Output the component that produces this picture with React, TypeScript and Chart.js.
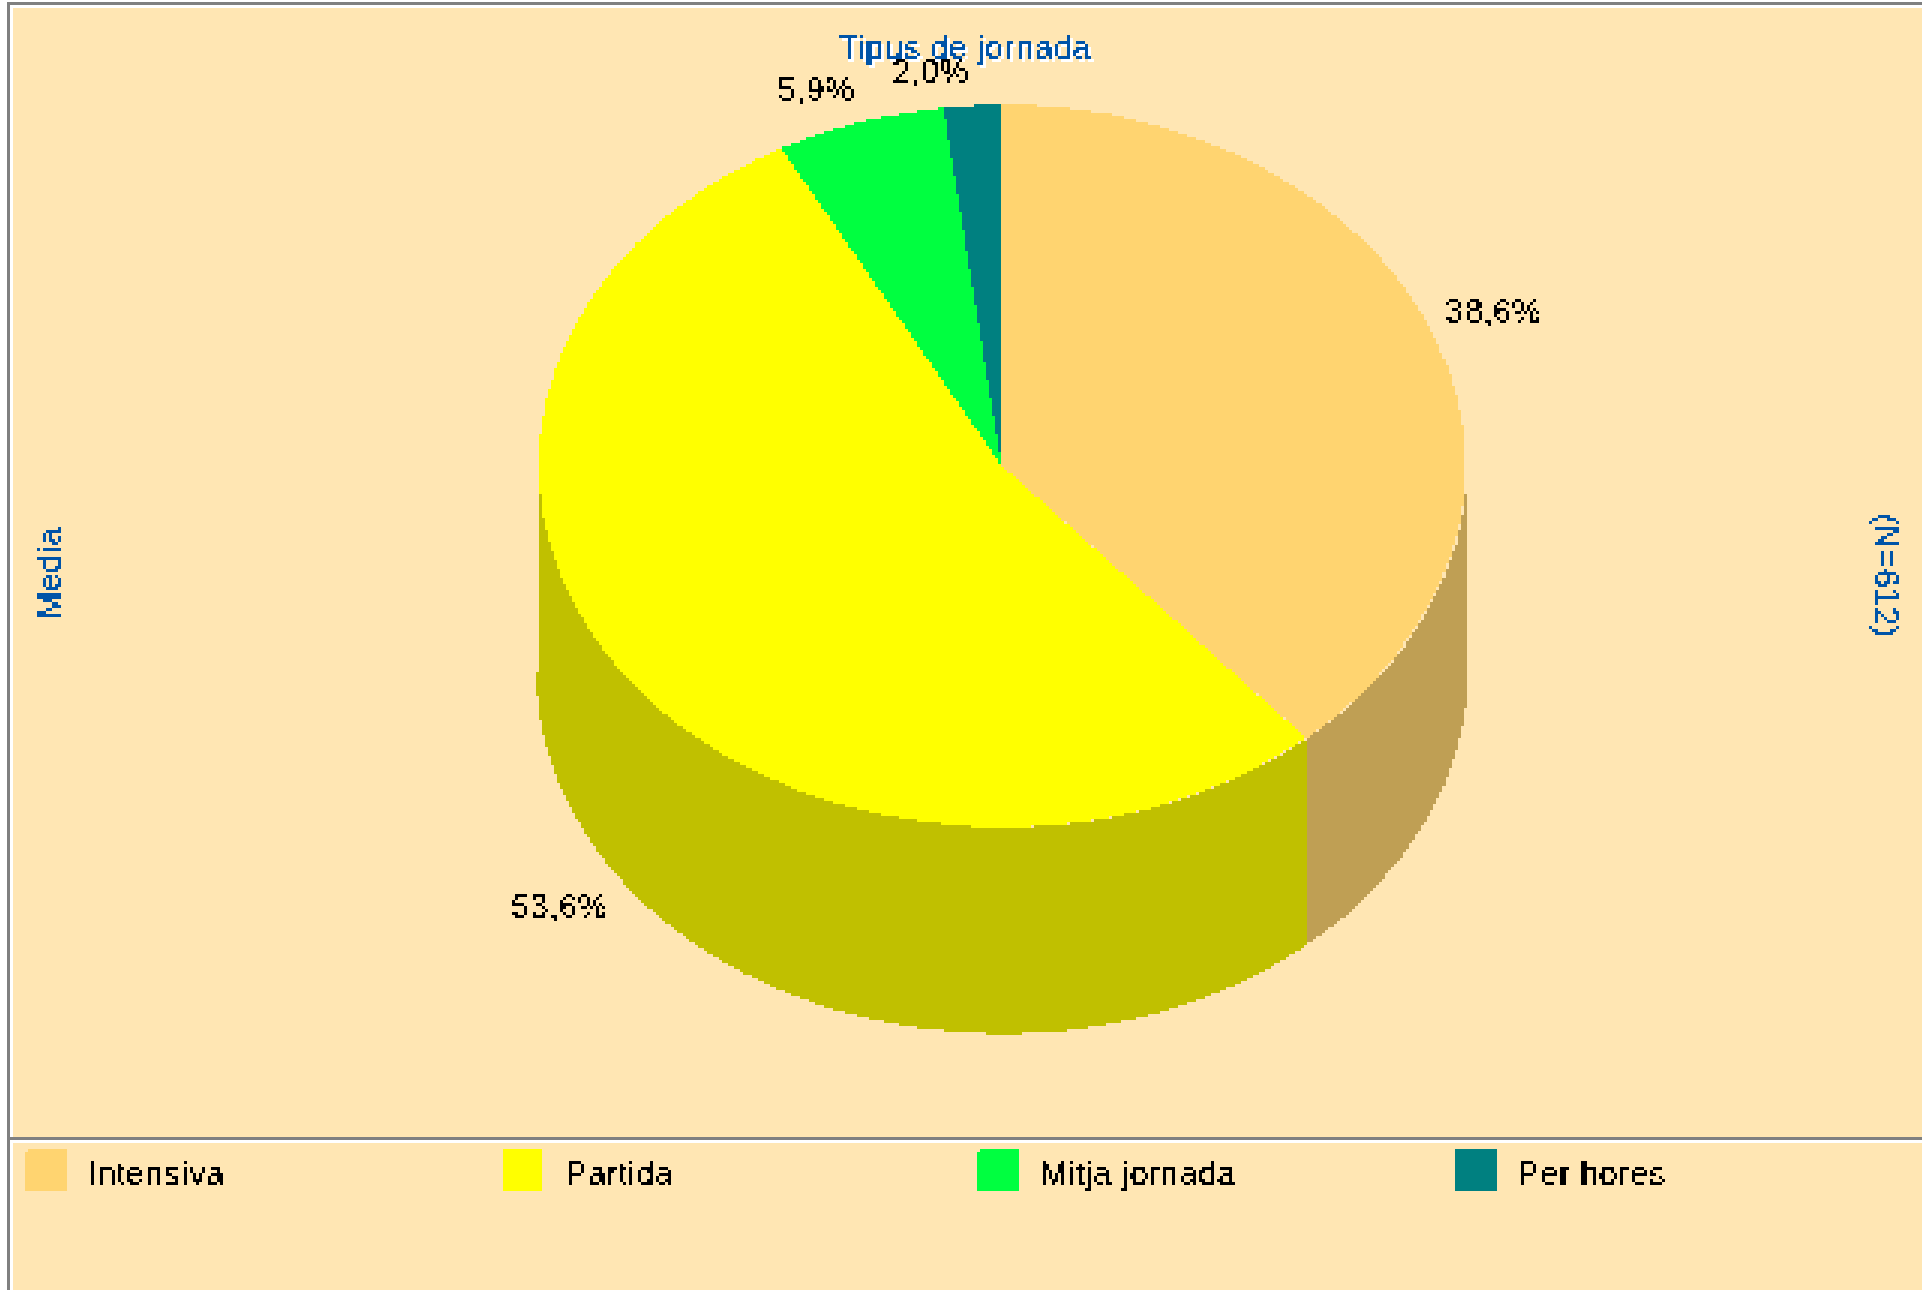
import React, { useEffect, useRef } from "react";
import { Chart, registerables } from "chart.js";

Chart.register(...registerables);

const categories = ["Intensiva", "Partida", "Mitja jornada", "Per hores"];
const shares = [38.6, 53.6, 5.9, 2.0];
const shareLabels = ["38,6%", "53,6%", "5,9%", "2,0%"];
const topColors = ["#FFD470", "#FFFF00", "#00FF40", "#008080"];
const wallColors = ["#BF9F54", "#C0C000", "#00BF30", "#006060"];
const titleText = "Tipus de jornada";
const leftText = "Media";
const rightText = "(N=612)";

const PEACH = "#FFE6B3";
const GRAY = "#808080";
const BLUE = "#0054A8";
const FONT = '33px "Liberation Sans", Arial, sans-serif';
const SPACING = "0.55px";
const TEXT_CUT = 0.46;

// One source pixel of the old bitmap look covers this many page pixels.
const CELL = 3.003;
const COLS = 642;
const ROWS = 430;
const W = 1928;
const H = 1292;
const OX = 2;
const OY = 1;
const CX = 1001.5;
const CY = 466;
const RX = 463.5;
const RY = 361;
const DEPTH = 205;

const labelSpots: [number, number][] = [
  [1445, 324],
  [511, 918],
  [777, 101],
  [892, 84],
];
const swatchLeft = [26, 502, 978, 1455];
const swatchRight = [68, 543, 1020, 1496];
const legendTextLeft = [88, 565, 1040, 1517];

function toRgb(hex: string) {
  const n = parseInt(hex.slice(1), 16);
  return [(n >> 16) & 255, (n >> 8) & 255, n & 255];
}

// Draws with the given colour, then removes the anti-aliased fringe.
function hard(c: CanvasRenderingContext2D, color: string, cut: number, draw: () => void) {
  const cw = c.canvas.width;
  const ch = c.canvas.height;
  const before = c.getImageData(0, 0, cw, ch).data;
  draw();
  const image = c.getImageData(0, 0, cw, ch);
  const px = image.data;
  const [r, g, b] = toRgb(color);
  for (let i = 0; i < px.length; i += 4) {
    const d = Math.abs(px[i] - before[i]) + Math.abs(px[i + 1] - before[i + 1]) + Math.abs(px[i + 2] - before[i + 2]);
    if (d === 0) continue;
    const total = Math.abs(r - before[i]) + Math.abs(g - before[i + 1]) + Math.abs(b - before[i + 2]);
    const on = total > 0 && d / total >= cut;
    px[i] = on ? r : before[i];
    px[i + 1] = on ? g : before[i + 1];
    px[i + 2] = on ? b : before[i + 2];
    px[i + 3] = 255;
  }
  c.putImageData(image, 0, 0);
}

const framePlugin = {
  id: "frame",
  beforeDraw(chart: any) {
    const c = chart.ctx;
    const band = (col: number, row: number, cols: number, rows: number, color: string) => {
      c.fillStyle = color;
      c.fillRect(col * CELL, row * CELL, cols * CELL, rows * CELL);
    };
    c.save();
    band(0, 0, COLS, ROWS, "#FFFFFF");
    band(3, 1, COLS, 1, GRAY);
    band(3, 1, 1, ROWS, GRAY);
    band(5, 3, COLS, ROWS, PEACH);
    band(3, 379, COLS, 1, GRAY);
    band(4, 380, COLS, 1, "#FFFFFF");
    c.restore();
  },
};

const pie3dPlugin = {
  id: "pie3d",
  beforeDatasetDraw(chart: any) {
    const c = chart.ctx;
    const arcs = chart.getDatasetMeta(0).data;
    const k = RY / RX;
    arcs.forEach((arc: any, i: number) => {
      const p = arc.getProps(["x", "y", "startAngle", "endAngle", "outerRadius"], true);
      const a0 = Math.max(p.startAngle, 0);
      const a1 = Math.min(p.endAngle, Math.PI);
      if (a1 <= a0) return;
      hard(c, wallColors[i], 0.5, () => {
        c.save();
        c.fillStyle = wallColors[i];
        c.translate(p.x, p.y);
        c.scale(1, k);
        c.beginPath();
        c.arc(2, 0, p.outerRadius, a0, a1, false);
        if (a1 === Math.PI) c.lineTo(-p.outerRadius, DEPTH / k);
        c.arc(0, DEPTH / k, p.outerRadius + 2.5, a1, a0, true);
        c.closePath();
        c.fill();
        c.restore();
      });
    });
    arcs.forEach((arc: any, i: number) => {
      hard(c, topColors[i], 0.5, () => {
        c.save();
        c.translate(CX + OX, CY + OY);
        c.scale(1, k);
        c.translate(-CX - OX, -CY - OY);
        arc.draw(c);
        c.restore();
      });
    });
    return false;
  },
};

const textPlugin = {
  id: "texts",
  afterDraw(chart: any) {
    const c = chart.ctx;
    const write = (color: string, fn: () => void) => {
      hard(c, color, TEXT_CUT, () => {
        c.save();
        c.translate(OX, OY);
        c.font = FONT;
        c.letterSpacing = SPACING;
        c.textBaseline = "alphabetic";
        c.textAlign = "left";
        c.fillStyle = color;
        fn();
        c.restore();
      });
    };

    write("#FFFFFF", () => c.fillText(titleText, 841, 61));
    write(BLUE, () => {
      c.fillText(titleText, 838, 58);
      c.save();
      c.translate(61, 620);
      c.rotate(-Math.PI / 2);
      c.fillText(leftText, 0, 0);
      c.restore();
      c.save();
      c.translate(1875, 514);
      c.rotate(Math.PI / 2);
      c.fillText(rightText, 0, 0);
      c.restore();
    });
    write("#000000", () => {
      shareLabels.forEach((t, i) => c.fillText(t, labelSpots[i][0], labelSpots[i][1]));
      categories.forEach((name, i) => c.fillText(name, legendTextLeft[i], 1184));
    });
    categories.forEach((_, i) => {
      hard(c, topColors[i], 0.5, () => {
        c.save();
        c.translate(OX, OY);
        c.fillStyle = topColors[i];
        c.fillRect(swatchLeft[i], 1150, swatchRight[i] - swatchLeft[i], 41);
        c.restore();
      });
    });
  },
};

export default function App() {
  const ref = useRef<HTMLCanvasElement | null>(null);
  useEffect(() => {
    const chart = new Chart(ref.current as HTMLCanvasElement, {
      type: "pie",
      data: {
        labels: categories,
        datasets: [
          {
            data: shares,
            backgroundColor: topColors,
            borderWidth: 0,
          },
        ],
      },
      options: {
        animation: false,
        responsive: false,
        devicePixelRatio: 1 / CELL,
        layout: {
          padding: {
            left: CX + OX - RX,
            right: W - (CX + OX) - RX,
            top: CY + OY - RX,
            bottom: H - (CY + OY) - RX,
          },
        },
        plugins: {
          legend: { display: false },
          title: { display: false },
          tooltip: { enabled: false },
        },
      },
      plugins: [framePlugin, pie3dPlugin, textPlugin],
    } as any);
    return () => chart.destroy();
  }, []);
  return (
    <div
      style={{
        position: "fixed",
        left: 0,
        top: 0,
        width: 1922,
        height: 1290,
        overflow: "hidden",
        background: "#FFFFFF",
      }}
    >
      <canvas
        ref={ref}
        width={W}
        height={H}
        style={{
          position: "absolute",
          left: -OX,
          top: -OY,
          width: COLS * CELL,
          height: ROWS * CELL,
          imageRendering: "pixelated",
        }}
      />
    </div>
  );
}
